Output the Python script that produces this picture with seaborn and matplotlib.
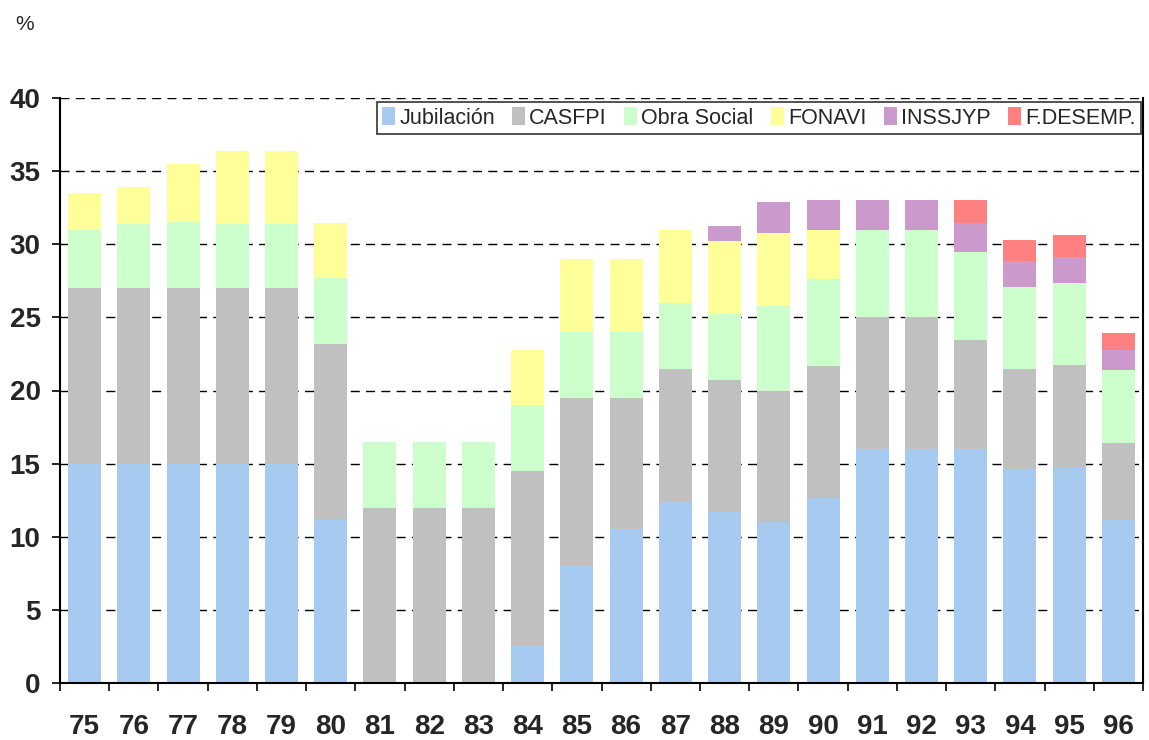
import matplotlib
matplotlib.use('Agg')
import matplotlib.pyplot as plt
from matplotlib.patches import Patch
from matplotlib.ticker import FixedLocator
import seaborn as sns
import numpy as np

# Datos (puntos porcentuales por componente)
anios = ['75', '76', '77', '78', '79', '80', '81', '82', '83', '84', '85',
         '86', '87', '88', '89', '90', '91', '92', '93', '94', '95', '96']
jubilacion = [15, 15, 15, 15, 15, 11.2, 0, 0, 0, 2.5, 8,
              10.5, 12.4, 11.7, 11, 12.65, 16, 16, 16, 14.6, 14.75, 11.15]
casfpi = [12, 12, 12, 12, 12, 12, 12, 12, 12, 12, 11.5,
          9, 9.1, 9, 9, 9.05, 9, 9, 7.45, 6.9, 7, 5.25]
obra_social = [4, 4.4, 4.5, 4.4, 4.4, 4.5, 4.5, 4.5, 4.5, 4.5, 4.5,
               4.5, 4.5, 4.55, 5.8, 5.9, 6, 6, 6, 5.55, 5.6, 5]
fonavi = [2.5, 2.5, 4, 5, 5, 3.75, 0, 0, 0, 3.75, 5,
          5, 5, 4.95, 5, 3.4, 0, 0, 0, 0, 0, 0]
inssjyp = [0, 0, 0, 0, 0, 0, 0, 0, 0, 0, 0,
           0, 0, 1.05, 2.1, 2, 2, 2, 2, 1.8, 1.8, 1.4]
f_desemp = [0, 0, 0, 0, 0, 0, 0, 0, 0, 0, 0,
            0, 0, 0, 0, 0, 0, 0, 1.55, 1.45, 1.45, 1.1]

series = ['Jubilación', 'CASFPI', 'Obra Social', 'FONAVI', 'INSSJYP', 'F.DESEMP.']
valores = [jubilacion, casfpi, obra_social, fonavi, inssjyp, f_desemp]
colores = ['#A6CAF0', '#C0C0C0', '#CCFFCC', '#FFFF99', '#CC99CC', '#FF8080']

sns.set_style('white')
plt.rcParams['font.family'] = ['Liberation Sans', 'DejaVu Sans']

fig = plt.figure(figsize=(11.49, 7.4), dpi=100)
ax = fig.add_axes([60 / 1149, 57 / 740, 1083 / 1149, 585 / 740])

# Barras apiladas: se dibujan las sumas acumuladas de mayor a menor
acumulado = np.cumsum(np.array(valores), axis=0)
for i in range(len(series) - 1, -1, -1):
    sns.barplot(x=anios, y=acumulado[i], color=colores[i], saturation=1,
                width=0.67, errorbar=None, linewidth=0, ax=ax, zorder=2)

ax.set_ylim(0, 40)
ax.set_yticks(np.arange(0, 41, 5))
ax.set_xlim(-0.5, len(anios) - 0.5)
ax.set_xlabel('')
ax.set_ylabel('')

ax.yaxis.grid(True, color='black', linewidth=1, linestyle=(0, (6.5, 4.5)), zorder=1)
ax.set_axisbelow(True)

for lado in ['left', 'right', 'bottom']:
    ax.spines[lado].set_visible(True)
    ax.spines[lado].set_color('black')
    ax.spines[lado].set_linewidth(1.5)
ax.spines['top'].set_visible(False)

# Marcas del eje x entre categorías
ax.xaxis.set_minor_locator(FixedLocator(np.arange(-0.5, len(anios), 1)))
ax.tick_params(axis='x', which='major', length=0, pad=22, labelsize=20)
ax.tick_params(axis='x', which='minor', bottom=True, length=6, width=1.2,
               direction='out', color='black')
ax.tick_params(axis='y', left=True, length=6, width=1.2, direction='out',
               color='black', pad=8, labelsize=20)
for t in ax.get_xticklabels() + ax.get_yticklabels():
    t.set_fontweight('bold')

fig.text(15 / 1149, 1 - 30 / 740, '%', fontsize=15)

manijas = [Patch(facecolor=c, edgecolor='none') for c in colores]
leg = ax.legend(manijas, series, ncol=6, loc='upper right', bbox_to_anchor=(1, 0.997),
                fontsize=15.5, frameon=True, fancybox=False, edgecolor='black',
                handlelength=0.6, handleheight=0.9, handletextpad=0.2,
                columnspacing=0.8, borderpad=0.25, borderaxespad=0.1)
leg.get_frame().set_linewidth(1.2)

fig.savefig('out.png', dpi=100)
